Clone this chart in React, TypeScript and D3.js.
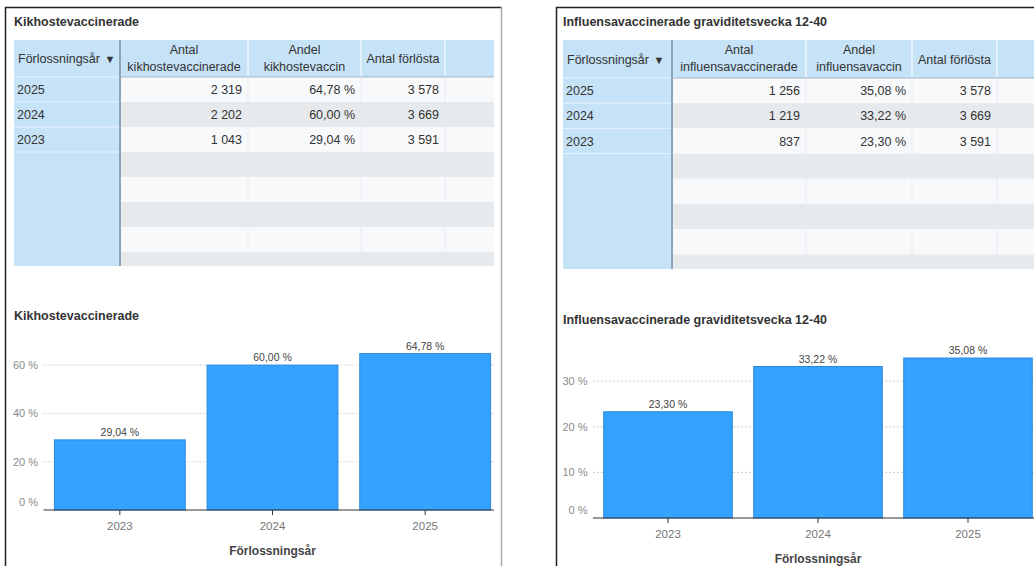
import React from "react";
import * as d3 from "d3";

// table rows, newest first
const tableYears = ["2025", "2024", "2023"];
const birthsCount = [3578, 3669, 3591];
const pertussisCount = [2319, 2202, 1043];
const pertussisShare = [64.78, 60.0, 29.04];
const fluCount = [1256, 1219, 837];
const fluShare = [35.08, 33.22, 23.3];

// chart categories, oldest first
const chartYears = ["2023", "2024", "2025"];
const pertussisTicks = [0, 20, 40, 60];
const fluTicks = [0, 10, 20, 30];

const sv = d3.formatLocale({ decimal: ",", thousands: "\u00a0", grouping: [3], currency: ["", " kr"] });
const fmtInt = sv.format(",d");
const fmtPct = (v: number) => sv.format(".2f")(v) + " %";

const FONT = "'Liberation Sans', Arial, sans-serif";

function Table({ x0, title, cols, headerBottom, rowH, bottom, countHeader, shareHeader, counts, shares }: any) {
  const top = 40;
  const cells = tableYears.map((y, i) => [y, fmtInt(counts[i]), fmtPct(shares[i]), fmtInt(birthsCount[i])]);
  const nRows = Math.ceil((bottom - headerBottom) / rowH);
  const rows = d3.range(nRows);
  const right = cols[cols.length - 1];
  return (
    <g fontFamily={FONT}>
      <text x={x0} y={26} fontSize={12.5} fontWeight="bold" fill="#333">{title}</text>
      {/* header */}
      <rect x={cols[0]} y={top} width={right - cols[0]} height={headerBottom - top} fill="#c6e2f7" />
      {cols.slice(1, -1).map((c: number, i: number) => (
        <line key={i} x1={c} x2={c} y1={top} y2={headerBottom} stroke="#fff" />
      ))}
      {/* body stripes */}
      {rows.map((r) => {
        const y = headerBottom + r * rowH;
        const h = Math.min(rowH, bottom - y);
        return (
          <rect key={r} x={cols[1]} y={y} width={right - cols[1]} height={h} fill={r % 2 === 0 ? "#f7f9fb" : "#e7eaed"} />
        );
      })}
      {cols.slice(2, -1).map((c: number, i: number) => (
        <line key={i} x1={c} x2={c} y1={headerBottom} y2={bottom} stroke="#e9ecef" />
      ))}
      {/* first column */}
      <rect x={cols[0]} y={headerBottom} width={cols[1] - cols[0]} height={bottom - headerBottom} fill="#c6e2f7" />
      {[0, 1, 2, 3].map((r) => (
        <line key={r} x1={cols[0]} x2={cols[1]} y1={headerBottom + r * rowH} y2={headerBottom + r * rowH} stroke="#e6f2fb" />
      ))}
      <line x1={cols[1]} x2={right} y1={headerBottom} y2={headerBottom} stroke="#a7b8c6" />
      <line x1={cols[1]} x2={cols[1]} y1={top} y2={bottom} stroke="#8ea4b8" strokeWidth={2} />
      {/* header texts */}
      <text x={cols[0] + 4} y={(top + headerBottom) / 2 + 4.5} fontSize={12.5} fill="#333">
        Förlossningsår <tspan fontSize={11} dx={1}>▼</tspan>
      </text>
      {[countHeader, shareHeader].map((h: string[], i: number) => (
        <text key={i} x={(cols[i + 1] + cols[i + 2]) / 2} textAnchor="middle" fontSize={12.5} fill="#333">
          <tspan x={(cols[i + 1] + cols[i + 2]) / 2} y={top + 13.5}>{h[0]}</tspan>
          <tspan x={(cols[i + 1] + cols[i + 2]) / 2} y={top + 31}>{h[1]}</tspan>
        </text>
      ))}
      <text x={(cols[3] + cols[4]) / 2} y={(top + headerBottom) / 2 + 4.5} textAnchor="middle" fontSize={12.5} fill="#333">
        Antal förlösta
      </text>
      {/* body texts */}
      {cells.map((row, r) => {
        const cy = headerBottom + r * rowH + rowH / 2 + 4.5;
        return (
          <g key={r} fontSize={12.5} fill="#333">
            <text x={cols[0] + 3} y={cy}>{row[0]}</text>
            {row.slice(1).map((v, c) => (
              <text key={c} x={cols[c + 2] - 6} y={cy} textAnchor="end">{v}</text>
            ))}
          </g>
        );
      })}
    </g>
  );
}

function BarChart({ x0, titleY, title, values, ticks, yMax, base, pxPer, range, axisEnd }: any) {
  const x = d3.scaleBand<string>().domain(chartYears).range(range).paddingInner(0.143).paddingOuter(0.0715);
  const y = d3.scaleLinear().domain([0, yMax]).range([base, base - yMax * pxPer]);
  const left = range[0];
  return (
    <g fontFamily={FONT}>
      <text x={x0} y={titleY} fontSize={12.5} fontWeight="bold" fill="#333">{title}</text>
      {ticks.map((t: number) => (
        <g key={t}>
          {t > 0 && (
            <line x1={left} x2={axisEnd} y1={y(t)} y2={y(t)} stroke="#d0d0d0" strokeDasharray="2,2" />
          )}
          <text x={left - 5.5} y={t === 0 ? y(t) - 8 + 4 : y(t) + 4} textAnchor="end" fontSize={11} fill="#8a8a8a">
            {t} %
          </text>
        </g>
      ))}
      {values.map((v: number, i: number) => (
        <g key={chartYears[i]}>
          <rect x={x(chartYears[i])} y={y(v)} width={x.bandwidth()} height={base - y(v)} fill="#36a2ff" stroke="#2a88dd" strokeWidth={1} />
          <text x={x(chartYears[i])! + x.bandwidth() / 2} y={y(v) - 4} textAnchor="middle" fontSize={10.5} fill="#444">
            {fmtPct(v)}
          </text>
        </g>
      ))}
      <line x1={left} x2={axisEnd} y1={base} y2={base} stroke="#333" />
      {chartYears.map((c) => {
        const cx = x(c)! + x.bandwidth() / 2;
        return (
          <g key={c}>
            <line x1={cx} x2={cx} y1={base} y2={base + 5} stroke="#333" />
            <text x={cx} y={base + 20} textAnchor="middle" fontSize={11.5} fill="#777">{c}</text>
          </g>
        );
      })}
      <text x={(range[0] + range[1]) / 2} y={base + 45} textAnchor="middle" fontSize={12} fontWeight="bold" fill="#444">
        Förlossningsår
      </text>
    </g>
  );
}

export default function App() {
  return (
    <svg width={1034} height={566} style={{ position: "absolute", left: 0, top: 0, background: "#fff" }}>
      {/* panel frames */}
      <line x1={5.5} x2={5.5} y1={7} y2={566} stroke="#222" strokeWidth={1.5} />
      <line x1={5} x2={502} y1={7.5} y2={7.5} stroke="#222" strokeWidth={1.5} />
      <line x1={501.5} x2={501.5} y1={7} y2={566} stroke="#aaa" strokeWidth={1.5} />
      <line x1={556.5} x2={556.5} y1={7} y2={566} stroke="#222" strokeWidth={1.5} />
      <line x1={556} x2={1034} y1={7.5} y2={7.5} stroke="#222" strokeWidth={1.5} />

      <Table
        x0={14}
        title="Kikhostevaccinerade"
        cols={[14, 120, 248, 361, 445, 494]}
        headerBottom={77}
        rowH={25}
        bottom={266}
        countHeader={["Antal", "kikhostevaccinerade"]}
        shareHeader={["Andel", "kikhostevaccin"]}
        counts={pertussisCount}
        shares={pertussisShare}
      />
      <Table
        x0={563}
        title="Influensavaccinerade graviditetsvecka 12-40"
        cols={[563, 672, 806, 912, 997, 1040]}
        headerBottom={78}
        rowH={25.2}
        bottom={269}
        countHeader={["Antal", "influensavaccinerade"]}
        shareHeader={["Andel", "influensavaccin"]}
        counts={fluCount}
        shares={fluShare}
      />

      <BarChart
        x0={14}
        titleY={320}
        title="Kikhostevaccinerade"
        values={chartYears.map((c) => pertussisShare[tableYears.indexOf(c)])}
        ticks={pertussisTicks}
        yMax={70}
        base={510}
        pxPer={2.415}
        range={[43.5, 501.5]}
        axisEnd={494}
      />
      <BarChart
        x0={563}
        titleY={324}
        title="Influensavaccinerade graviditetsvecka 12-40"
        values={chartYears.map((c) => fluShare[tableYears.indexOf(c)])}
        ticks={fluTicks}
        yMax={40}
        base={518}
        pxPer={4.56}
        range={[593, 1043]}
        axisEnd={1034}
      />
    </svg>
  );
}
